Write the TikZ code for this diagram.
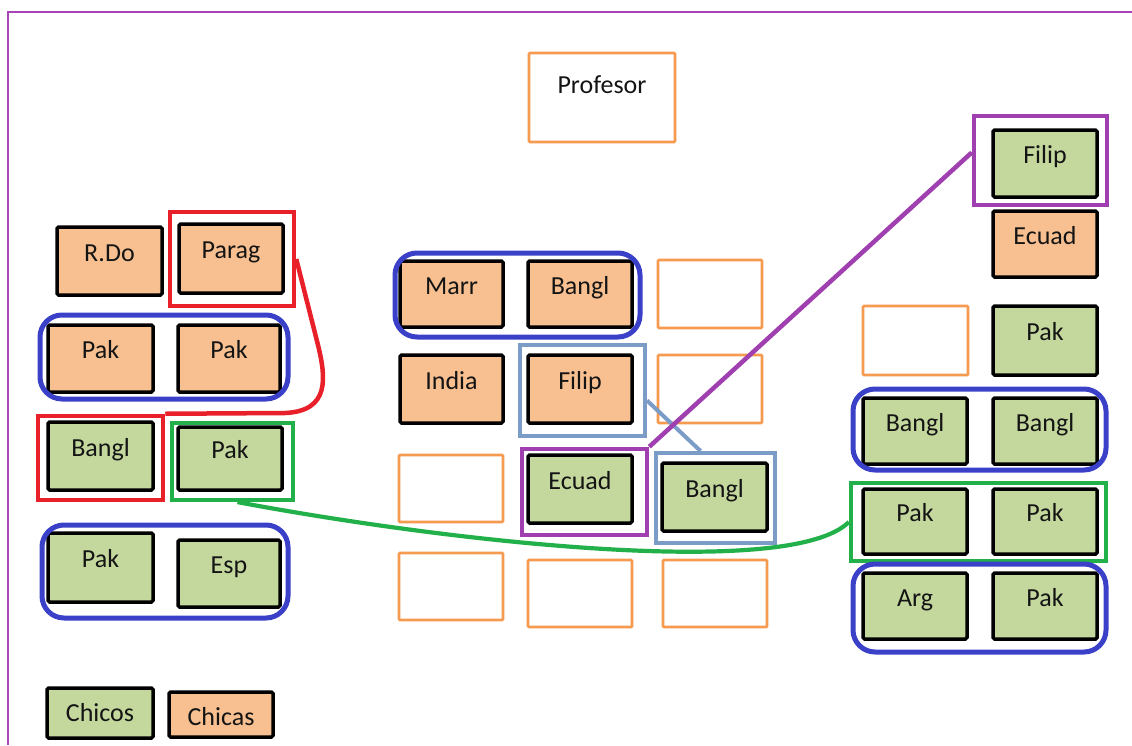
\documentclass[tikz,border=0pt]{standalone}
\usepackage{fontspec}
\setmainfont{Carlito}
\usetikzlibrary{calc}
\definecolor{ofill}{HTML}{F8C091}
\definecolor{gfill}{HTML}{C4D89E}
\definecolor{oline}{HTML}{F59A4E}
\definecolor{bline}{HTML}{3B40C8}
\definecolor{rline}{HTML}{E8202A}
\definecolor{gline}{HTML}{22B04A}
\definecolor{pline}{HTML}{A040B0}
\definecolor{lbline}{HTML}{7C9CC8}
\definecolor{frame}{HTML}{A844B8}
\definecolor{txt}{HTML}{141414}
\newcommand\bx[7]{%
  \pgfmathsetmacro\mybw{#5-#3}\pgfmathsetmacro\mybh{#6-#4}\pgfmathsetmacro\mybhh{(#6-#4)/2}%
  \node[inner sep=0pt, minimum width=\mybw pt, minimum height=\mybh pt,
        text height=\mybhh pt, text depth=\mybhh pt, #2] (#1) at ({(#3+#5)/2},{(#4+#6)/2}) {#7};}
\tikzset{
  girl/.style={draw=black, fill=ofill, line width=3.5pt, rounded corners=1.5pt, text=txt},
  boy/.style={draw=black, fill=gfill, line width=3.5pt, rounded corners=1.5pt, text=txt},
  seat/.style={draw=oline, line width=2.8pt, rounded corners=1pt, text=txt},
  pair/.style={draw=bline, line width=5pt, rounded corners=22pt},
  redgrp/.style={draw=rline, line width=4.5pt},
  grngrp/.style={draw=gline, line width=4.2pt},
  purgrp/.style={draw=pline, line width=4.5pt},
  lbgrp/.style={draw=lbline, line width=4pt},
}
\begin{document}
\begin{tikzpicture}[x=1pt,y=-1pt,font=\fontsize{26}{31}\selectfont]
\useasboundingbox (0,0) rectangle (1132,745);
\draw[frame, line width=2.2pt] (1132,12) -- (8,12) -- (8,745);
% teacher
\bx{prof}{seat, text height=40pt, text depth=49pt}{529}{53}{675}{142}{Profesor}
% left column
\bx{rdo}{girl}{57}{227}{162}{295}{R.Do}
\bx{parag}{girl}{179}{224}{283}{293}{Parag}
\bx{parR}{redgrp}{170}{212}{294}{306}{}
\bx{pakA}{girl}{48}{325}{153}{392}{Pak}
\bx{pakB}{girl}{178}{325}{280}{392}{Pak}
\bx{bL1}{pair}{40}{315}{288}{399}{}
\bx{banA}{boy}{48}{422}{153}{490}{Bangl}
\bx{bnR}{redgrp}{38}{416}{163}{500}{}
\bx{pakC}{boy}{178}{427}{282}{490}{Pak}
\bx{gP}{grngrp}{172}{423}{293}{500}{}
\bx{pakD}{boy}{48}{533}{153}{602}{Pak}
\bx{esp}{boy}{178}{540}{280}{607}{Esp}
\bx{bL2}{pair}{42}{525}{288}{618}{}
\bx{chicos}{boy, text height=33pt, text depth=17pt}{47}{688}{153}{738}{Chicos}
\bx{chicas}{girl, text height=33pt, text depth=12pt}{169}{692}{273}{737}{Chicas}
% middle
\bx{marr}{girl}{400}{261}{503}{327}{Marr}
\bx{banB}{girl}{528}{261}{632}{327}{Bangl}
\bx{bM}{pair}{395}{253}{640}{337}{}
\bx{s1}{seat}{658}{260}{762}{328}{}
\bx{india}{girl}{400}{355}{503}{423}{India}
\bx{filA}{girl}{528}{355}{632}{423}{Filip}
\bx{filR}{lbgrp}{520}{345}{645}{436}{}
\bx{s2}{seat}{658}{355}{762}{423}{}
\bx{s3}{seat}{399}{455}{503}{522}{}
\bx{ecA}{boy}{528}{455}{632}{523}{Ecuad}
\bx{ecP}{purgrp}{522}{449}{647}{535}{}
\bx{banC}{boy}{662}{463}{767}{531}{Bangl}
\bx{bR2}{lbgrp}{656}{453}{775}{543}{}
\bx{s4}{seat}{399}{553}{503}{620}{}
\bx{s5}{seat}{528}{560}{632}{627}{}
\bx{s6}{seat}{663}{560}{767}{627}{}
% right column
\bx{filB}{boy}{993}{130}{1097}{197}{Filip}
\bx{fiP}{purgrp}{974}{116}{1107}{205}{}
\bx{ecB}{girl}{993}{211}{1097}{277}{Ecuad}
\bx{s7}{seat}{863}{306}{968}{375}{}
\bx{pakE}{boy}{993}{306}{1097}{375}{Pak}
\bx{banD}{boy}{863}{398}{967}{464}{Bangl}
\bx{banE}{boy}{993}{398}{1097}{464}{Bangl}
\bx{bR1}{pair}{853}{389}{1106}{470}{}
\bx{pakF}{boy}{863}{489}{967}{554}{Pak}
\bx{pakG}{boy}{993}{489}{1097}{554}{Pak}
\bx{gR}{grngrp}{851}{483}{1106}{561}{}
\bx{arg}{boy}{863}{573}{967}{639}{Arg}
\bx{pakH}{boy}{993}{573}{1097}{639}{Pak}
\bx{bR3}{pair}{853}{564}{1106}{652}{}
% connectors
\draw[rline, line width=4.5pt, line join=round] (parR.east) -- (318,345) .. controls (326,378) and (330,411) .. (285,413) -- (bnR.north east);
\draw[lbline, line width=4pt] ([yshift=-10pt]filR.east) -- ([xshift=-15pt]bR2.north);
\draw[pline, line width=4.5pt] (ecP.north east) -- ([yshift=8pt]fiP.west);
\draw[gline, line width=4.2pt] ([xshift=5pt]gP.south) .. controls (450,542) and (790,580) .. (gR.west);
\end{tikzpicture}
\end{document}
